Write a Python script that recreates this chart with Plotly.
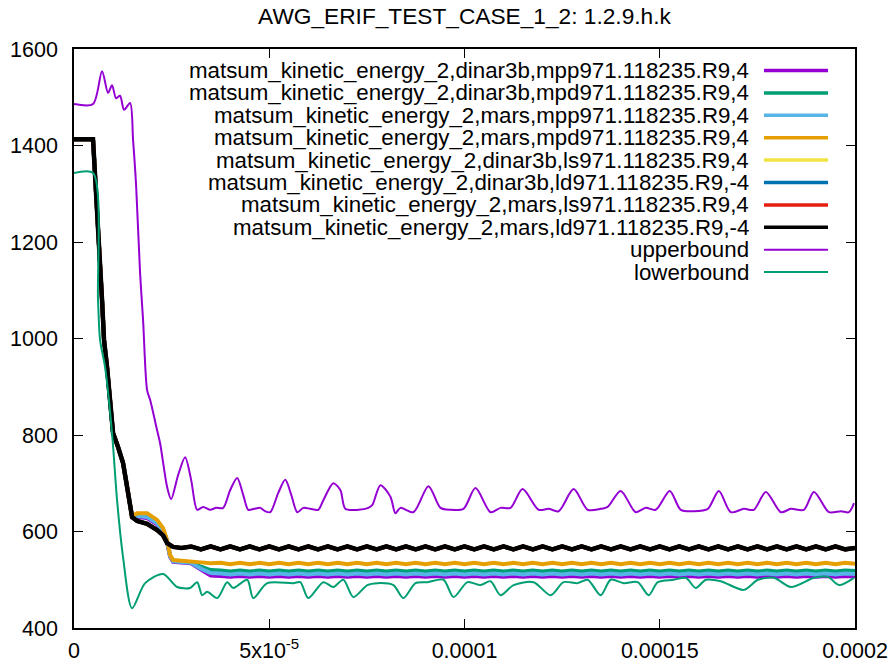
import plotly.graph_objects as go

# ---------------- data (time in microseconds, energy values) ----------------
t_head_us = [0, 4.87, 7.18, 7.69, 8.46, 10.00, 11.28, 12.56, 13.85, 14.87,
             16.15, 18.72, 21.28, 22.82, 23.85, 24.62, 25.38]
t_tail_us = [27.5, 30.0, 32.5, 35.0, 37.5, 40.0, 42.5, 45.0, 47.5, 50.0,
             52.5, 55.0, 57.5, 60.0, 62.5, 65.0, 67.5, 70.0, 72.5, 75.0,
             77.5, 80.0, 82.5, 85.0, 87.5, 90.0, 92.5, 95.0, 97.5, 100.0,
             102.5, 105.0, 107.5, 110.0, 112.5, 115.0, 117.5, 120.0, 122.5, 125.0,
             127.5, 130.0, 132.5, 135.0, 137.5, 140.0, 142.5, 145.0, 147.5, 150.0,
             152.5, 155.0, 157.5, 160.0, 162.5, 165.0, 167.5, 170.0, 172.5, 175.0,
             177.5, 180.0, 182.5, 185.0, 187.5, 190.0, 192.5, 195.0, 197.5, 200.0]

ld_head = [1413, 1413, 1080, 997, 941, 804, 775, 742, 680, 630, 622, 616, 603, 592, 576, 571, 568]
ld_tail = [566, 569, 563, 569, 563, 569, 563, 569, 563, 569,
           563, 569, 563, 569, 563, 569, 563, 569, 563, 569,
           563, 569, 563, 569, 563, 569, 563, 569, 563, 569,
           563, 569, 563, 569, 563, 569, 563, 569, 563, 569,
           563, 569, 563, 569, 563, 569, 563, 569, 563, 569,
           563, 569, 563, 569, 563, 569, 563, 569, 563, 569,
           563, 569, 563, 569, 563, 569, 563, 569, 563, 566]

mpd_mars_head = [1413, 1413, 1080, 997, 941, 804, 775, 742, 680, 632, 638, 638, 624, 607, 582, 551, 541]
mpd_mars_tail = [540, 538, 536, 534, 535, 532, 535, 532, 535, 532,
                 535, 532, 535, 532, 535, 532, 535, 532, 535, 532,
                 535, 532, 535, 532, 535, 532, 535, 532, 535, 532,
                 535, 532, 535, 532, 535, 532, 535, 532, 535, 532,
                 535, 532, 535, 532, 535, 532, 535, 532, 535, 532,
                 535, 532, 535, 532, 535, 532, 535, 532, 535, 532,
                 535, 532, 535, 532, 535, 532, 535, 532, 535, 533]

mpd_dinar_head = [1413, 1413, 1080, 997, 941, 804, 775, 742, 680, 631, 635, 634, 620, 604, 580, 550, 540]
mpd_dinar_tail = [538, 536, 527, 520, 519, 517, 519, 517, 519, 517,
                  519, 517, 519, 517, 519, 517, 519, 517, 519, 517,
                  519, 517, 519, 517, 519, 517, 519, 517, 519, 517,
                  519, 517, 519, 517, 519, 517, 519, 517, 519, 517,
                  519, 517, 519, 517, 519, 517, 519, 517, 519, 517,
                  519, 517, 519, 517, 519, 517, 519, 517, 519, 517,
                  519, 517, 519, 517, 519, 517, 519, 517, 519, 518]

mpp_mars_head = [1413, 1413, 1080, 997, 941, 804, 775, 742, 680, 630, 632, 630, 617, 600, 578, 548, 538]
mpp_mars_tail = [537, 535, 523, 514, 513, 511, 513, 511, 513, 511,
                 513, 511, 513, 511, 513, 511, 513, 511, 513, 511,
                 513, 511, 513, 511, 513, 511, 513, 511, 513, 511,
                 513, 511, 513, 511, 513, 511, 513, 511, 513, 511,
                 513, 511, 513, 511, 513, 511, 513, 511, 513, 511,
                 513, 511, 513, 511, 513, 511, 513, 511, 513, 511,
                 513, 511, 513, 511, 513, 511, 513, 511, 513, 512]

mpp_dinar_head = [1413, 1413, 1080, 997, 941, 804, 775, 742, 680, 630, 630, 628, 615, 598, 577, 547, 537]
mpp_dinar_tail = [536, 534, 521, 509, 508, 506, 508, 506, 508, 506,
                  508, 506, 508, 506, 508, 506, 508, 506, 508, 506,
                  508, 506, 508, 506, 508, 506, 508, 506, 508, 506,
                  508, 506, 508, 506, 508, 506, 508, 506, 508, 506,
                  508, 506, 508, 506, 508, 506, 508, 506, 508, 506,
                  508, 506, 508, 506, 508, 506, 508, 506, 508, 506,
                  508, 506, 508, 506, 508, 506, 508, 506, 508, 507]

upper_t_us = [0, 4.87, 7.18, 8.72, 9.74, 10.77, 11.79, 12.82, 14.36, 15.13,
              15.90, 16.92, 17.69, 18.72, 19.49, 21.28, 22.05, 23.85, 24.87, 26.67,
              28.46, 30.00, 31.54, 33.08, 34.87, 36.41, 38.21, 40.00, 41.79, 43.33,
              44.62, 46.15, 47.69, 48.97, 50.26, 52.31, 54.10, 55.64, 57.18, 58.72,
              60.51, 62.56, 63.85, 66.41, 68.21, 69.49, 72.82, 75.38, 76.41, 78.46,
              81.03, 82.31, 83.59, 86.92, 90.77, 93.85, 96.41, 99.74, 102.82, 106.67,
              109.23, 111.79, 114.87, 118.97, 121.54, 124.10, 127.95, 131.54, 134.87, 136.67,
              140.00, 143.85, 146.41, 148.97, 152.56, 155.38, 158.72, 162.31, 165.13, 168.21,
              171.54, 174.10, 177.18, 181.03, 183.59, 186.92, 189.49, 193.33, 196.41, 198.46,
              199.74]
upper_vals = [1486, 1486, 1554, 1509, 1525, 1498, 1503, 1474, 1488, 1411,
              1318, 1136, 1038, 893, 873, 810, 783, 692, 667, 717,
              754, 707, 645, 651, 645, 649, 649, 686, 711, 676,
              645, 647, 649, 642, 640, 680, 707, 676, 640, 649,
              647, 645, 665, 700, 686, 647, 645, 649, 655, 696,
              672, 638, 649, 640, 694, 649, 645, 647, 690, 640,
              649, 649, 688, 645, 647, 642, 688, 645, 647, 651,
              684, 640, 649, 645, 684, 645, 642, 647, 684, 640,
              647, 645, 682, 640, 647, 645, 682, 640, 642, 640,
              659]

lower_t_us = [0, 4.87, 6.15, 6.67, 7.95, 9.74, 11.03, 12.56, 14.87, 18.21,
              22.82, 26.41, 29.74, 31.54, 32.82, 34.10, 36.67, 39.23, 40.77, 44.36,
              45.90, 49.49, 56.15, 57.95, 60.00, 63.85, 66.41, 68.97, 71.54, 75.13,
              77.69, 81.79, 84.36, 87.44, 90.51, 94.62, 97.18, 100.77, 104.10, 106.67,
              109.23, 112.56, 117.69, 122.05, 125.38, 128.97, 131.54, 134.87, 137.44, 140.77,
              144.36, 147.18, 149.49, 153.59, 156.67, 159.23, 161.79, 165.64, 171.54, 175.13,
              179.23, 183.59, 189.49, 193.08, 195.90, 199.74]
lower_vals = [1343, 1343, 1080, 997, 941, 804, 665, 547, 441, 493,
              512, 485, 483, 495, 468, 475, 462, 495, 483, 500,
              462, 493, 493, 495, 462, 495, 485, 500, 464, 489,
              493, 489, 462, 493, 495, 500, 464, 495, 489, 497,
              468, 489, 495, 468, 495, 493, 500, 468, 500, 493,
              495, 468, 495, 500, 504, 483, 500, 497, 479, 500,
              504, 485, 504, 506, 489, 504]

x_tickvals = [0, 5e-5, 1e-4, 1.5e-4, 2e-4]
x_ticktext = ["0", "5x10<sup>-5</sup>", "0.0001", "0.00015", "0.0002"]
y_tickvals = [400, 600, 800, 1000, 1200, 1400, 1600]

# ---------------- series definitions ----------------
US = 1e-6
t_sim = [v * US for v in t_head_us + t_tail_us]

series = [
    ("matsum_kinetic_energy_2,dinar3b,mpp971.118235.R9,4", t_sim, mpp_dinar_head + mpp_dinar_tail, "#9400d3", 4, 3.5),
    ("matsum_kinetic_energy_2,dinar3b,mpd971.118235.R9,4", t_sim, mpd_dinar_head + mpd_dinar_tail, "#009e73", 4, 3.5),
    ("matsum_kinetic_energy_2,mars,mpp971.118235.R9,4", t_sim, mpp_mars_head + mpp_mars_tail, "#56b4e9", 4, 3.5),
    ("matsum_kinetic_energy_2,mars,mpd971.118235.R9,4", t_sim, mpd_mars_head + mpd_mars_tail, "#e69f00", 4, 3.5),
    ("matsum_kinetic_energy_2,dinar3b,ls971.118235.R9,4", t_sim, ld_head + ld_tail, "#f0e442", 4, 3.5),
    ("matsum_kinetic_energy_2,dinar3b,ld971.118235.R9,-4", t_sim, ld_head + ld_tail, "#0072b2", 4, 3.5),
    ("matsum_kinetic_energy_2,mars,ls971.118235.R9,4", t_sim, ld_head + ld_tail, "#e51e10", 4, 3.5),
    ("matsum_kinetic_energy_2,mars,ld971.118235.R9,-4", t_sim, ld_head + ld_tail, "#000000", 4.5, 3.5),
    ("upperbound", [v * US for v in upper_t_us], upper_vals, "#9400d3", 2, 2),
    ("lowerbound", [v * US for v in lower_t_us], lower_vals, "#009e73", 2, 2),
]

W, H = 896, 669
L, R, T, B = 74, 41, 49, 41
FONT = "Liberation Sans, Arial, Helvetica, sans-serif"

fig = go.Figure()
for name, xs, ys, color, width, _ in series:
    is_bound = name.endswith("bound")
    fig.add_trace(go.Scatter(
        x=xs, y=ys, mode="lines", name=name, showlegend=False,
        line=dict(color=color, width=width,
                  shape="spline" if is_bound else "linear",
                  smoothing=0.8 if is_bound else None),
    ))

# gnuplot-style key: right-aligned text followed by a line sample
plot_w = W - L - R
plot_h = H - T - B
text_right_px = 751
sample_x0_px, sample_x1_px = 764, 828
row0_px, row_step = 70.5, 22.4
shapes = []
annotations = []
for i, (name, _, _, color, _, kw) in enumerate(series):
    ypx = row0_px + row_step * i
    yp = (H - B - ypx) / plot_h
    annotations.append(dict(
        text=name, x=(text_right_px - L) / plot_w, y=yp, xref="paper", yref="paper",
        xanchor="right", yanchor="middle", showarrow=False,
        font=dict(family=FONT, size=22.3, color="#000000"),
    ))
    shapes.append(dict(
        type="line", xref="paper", yref="paper",
        x0=(sample_x0_px - L) / plot_w, x1=(sample_x1_px - L) / plot_w, y0=yp, y1=yp,
        line=dict(color=color, width=kw),
    ))

axis_common = dict(
    showgrid=False, zeroline=False, showline=True, linecolor="#000000", linewidth=1.5,
    mirror="allticks", ticks="inside", ticklen=9, tickwidth=1.2, tickcolor="#000000",
    tickfont=dict(family=FONT, size=21.5, color="#000000"), automargin=False,
)

fig.update_layout(
    width=W, height=H,
    margin=dict(l=L, r=R, t=T, b=B, pad=0, autoexpand=False),
    paper_bgcolor="white", plot_bgcolor="white",
    title=dict(text="AWG_ERIF_TEST_CASE_1_2: 1.2.9.h.k", x=0.5, xref="paper",
               y=1 - 16 / H, yref="container", yanchor="middle", xanchor="center",
               font=dict(family=FONT, size=22.7, color="#000000")),
    xaxis=dict(range=[0, 2e-4], tickvals=x_tickvals, ticktext=x_ticktext,
               ticklabelstandoff=2, **axis_common),
    yaxis=dict(range=[400, 1600], tickvals=y_tickvals, ticklabelstandoff=10,
               **axis_common),
    shapes=shapes, annotations=annotations,
)

fig.write_html("out.html", config={"displayModeBar": False},
               post_script="document.body.style.margin='0px';document.body.style.overflow='hidden';")
